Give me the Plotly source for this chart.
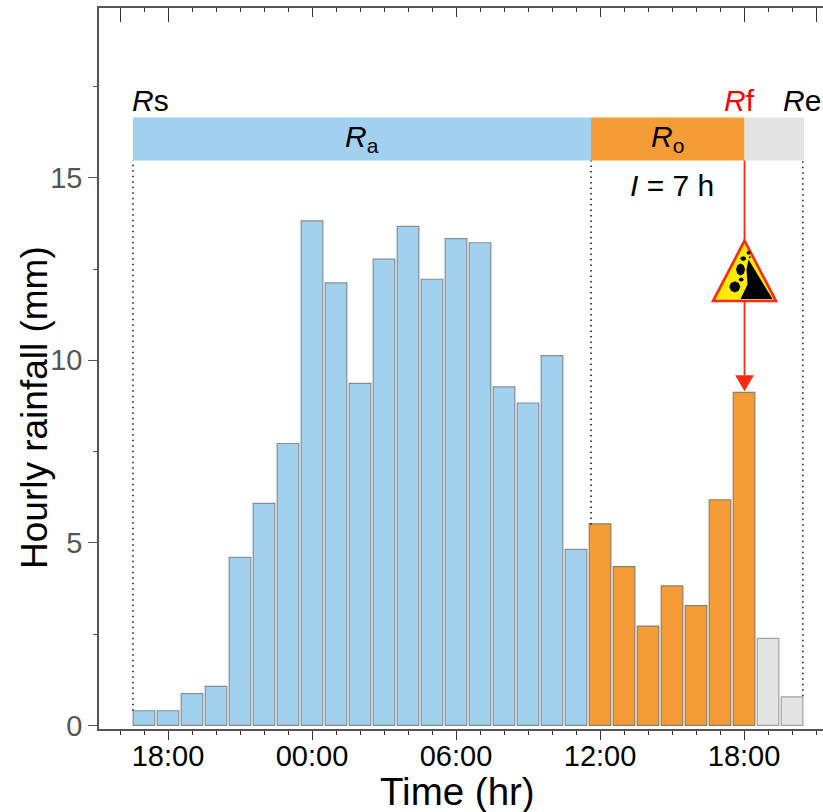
import plotly.graph_objects as go

# hours since 18:00 of the first evening
hours = list(range(-1, 27))
rain = [0.40, 0.40, 0.87, 1.07, 4.60, 6.08, 7.72, 13.82, 12.12, 9.37, 12.77, 13.67, 12.22, 13.33, 13.22,
        9.27, 8.83, 10.13, 4.82, 5.52, 4.35, 2.72, 3.82, 3.28, 6.18, 9.12, 2.38, 0.78]
phase_counts = [19, 7, 2]
phase_colors = ["#A1D1EF", "#F69C37", "#E3E3E3"]
tick_hours = [0, 6, 12, 18, 24]
tick_labels = ["18:00", "00:00", "06:00", "12:00", "18:00"]
y_ticks = [0, 5, 10, 15]
y_minor = [2.5, 7.5, 12.5, 17.5]
top_long = [-2, 0, 24, 27]
top_mid = [6, 12, 18]

colors = sum(([c] * n for c, n in zip(phase_colors, phase_counts)), [])
edge = sum(([c] * n for c, n in zip(["#858E95", "#8C7E6A", "#A2A2A2"], phase_counts)), [])
X0, X1, Y0, Y1 = -2.875, 27.29, -0.1, 19.65
FONT = "Liberation Sans"
AX = "#555555"
TK = "#333333"

fig = go.Figure()
fig.add_trace(go.Bar(x=hours, y=rain, width=0.9, marker=dict(color=colors, line=dict(color=edge, width=1.2)), showlegend=False))
for ax in ["x2", "x3"]:
    fig.add_trace(go.Scatter(x=[0], y=[0], xaxis=ax, mode="markers", marker=dict(opacity=0), showlegend=False, hoverinfo="skip"))

RB, RT = 15.47, 16.65
xs, xo, xf, xe = -1.46, 17.625, 24.02, 26.5
for a, b, c in [(xs, xo, phase_colors[0]), (xo, xf, phase_colors[1]), (xf, xe, phase_colors[2])]:
    fig.add_shape(type="rect", x0=a, x1=b, y0=RB, y1=RT, fillcolor=c, line=dict(width=0), layer="below")
for x, top in [(xs, 0.4), (xo, 5.5), (xe - 0.05, 0.8)]:
    fig.add_shape(type="line", x0=x, x1=x, y0=top, y1=RB, line=dict(color="#111111", width=1.5, dash="1.5px,4px"))

RED = "#FF2A0E"
fig.add_shape(type="line", x0=xf, x1=xf, y0=9.59, y1=RB, line=dict(color=RED, width=1.8))
fig.add_shape(type="path", path=f"M {xf-0.39} 9.59 L {xf+0.39} 9.59 L {xf} 9.15 Z", fillcolor=RED, line=dict(width=0))

# warning sign, placed in data units
def P(dx, dy):
    return f"{xf + dx / 24:.3f} {(725.7 - (270 + dy)) / 36.5:.3f}"
def path(pts):
    return "M " + " L ".join(P(*p) for p in pts) + " Z"
fig.add_shape(type="path", path=path([(0, -29), (31.5, 31.5), (-31.5, 31.5)]), fillcolor="#FFEB00", line=dict(color=RED, width=2.6))
fig.add_shape(type="path", path=path([(4, -10), (28, 29.5), (-4, 29.5), (3, 15), (2, 0)]), fillcolor="black", line=dict(width=0))
for cx, cy, rx, ry in [(-4, 0, 4.5, 6), (-9.7, 17.3, 5.5, 5.5), (-3.3, 10, 2.5, 2), (-1.3, -11, 3, 2.3), (4, -16.7, 2, 2), (5.3, -12.3, 1, 1)]:
    fig.add_shape(type="path", path=path([(cx - rx, cy), (cx - rx * .7, cy - ry * .7), (cx, cy - ry), (cx + rx * .7, cy - ry * .7),
                                          (cx + rx, cy), (cx + rx * .7, cy + ry * .7), (cx, cy + ry), (cx - rx * .7, cy + ry * .7)]),
                  fillcolor="black", line=dict(width=0))

def note(x, y, text, size=30, color="black"):
    fig.add_annotation(x=x, y=y, text=text, showarrow=False, xref="x", yref="y",
                       font=dict(family=FONT, size=size, color=color), xanchor="center", yanchor="middle")
note(-0.75, 17.13, "<i>R</i>s")
note(23.8, 17.13, "<i>R</i>f", color="#FF0000")
note(26.4, 17.13, "<i>R</i>e")
note(8.1, 16.08, "<i>R</i><sub>a</sub>")
note(20.8, 16.08, "<i>R</i><sub>o</sub>")
note(21.0, 14.78, "<i>I</i> = 7 h")

# axis titles sit at the reference's own off-centre positions
fig.add_annotation(x=(457 - 99) / 724, y=(729 - 791) / 721, xref="paper", yref="paper", text="Time (hr)", showarrow=False,
                   font=dict(family=FONT, size=38.5, color="black"), xanchor="center", yanchor="middle")
fig.add_annotation(x=(34 - 99) / 724, y=(729 - 408) / 721, xref="paper", yref="paper", text="Hourly rainfall (mm)", showarrow=False, textangle=-90,
                   font=dict(family=FONT, size=37, color="black"), xanchor="center", yanchor="middle")

def top_axis(vals, length, minor=None):
    d = dict(range=[X0, X1], overlaying="x", side="top", anchor="y", tickmode="array", tickvals=vals, ticktext=[""] * len(vals),
             ticks="inside", ticklen=length, tickwidth=1.4, tickcolor=TK, showline=True, linecolor=AX, linewidth=1.5,
             showgrid=False, zeroline=False)
    if minor:
        d["minor"] = dict(tickmode="array", tickvals=minor, ticks="inside", ticklen=4, tickwidth=1.4, tickcolor=TK, showgrid=False)
    return d

fig.update_layout(
    width=823, height=812, margin=dict(l=99, r=0, t=8, b=83), paper_bgcolor="white", plot_bgcolor="white",
    bargap=0.1, font=dict(family=FONT),
    xaxis=dict(range=[X0, X1], tickmode="array", tickvals=tick_hours, ticktext=tick_labels, ticks="outside", ticklen=9, tickwidth=1.4,
               ticklabelstandoff=-9, tickcolor=TK, tickfont=dict(size=29, color="black"), showline=True, linecolor=AX, linewidth=1.5,
               showgrid=False, zeroline=False,
               minor=dict(tickmode="array", tickvals=[h for h in range(-2, 28) if h not in tick_hours], ticks="outside", ticklen=4, tickwidth=1.4, tickcolor=TK, showgrid=False)),
    xaxis2=top_axis(top_long, 14, [h for h in range(-1, 27) if h not in top_long + top_mid]),
    xaxis3=top_axis(top_mid, 9),
    yaxis=dict(range=[Y0, Y1], tickmode="array", tickvals=y_ticks, ticks="outside", ticklen=9, tickwidth=1.4, tickcolor=AX,
               tickfont=dict(size=29, color=AX), showline=True, linecolor=AX, linewidth=1.5, showgrid=False, zeroline=False,
               minor=dict(tickmode="array", tickvals=y_minor, ticks="outside", ticklen=4, tickwidth=1.4, tickcolor=AX, showgrid=False)),
)
fig.write_html("out.html", config=dict(displayModeBar=False), post_script="document.body.style.margin='0';")
